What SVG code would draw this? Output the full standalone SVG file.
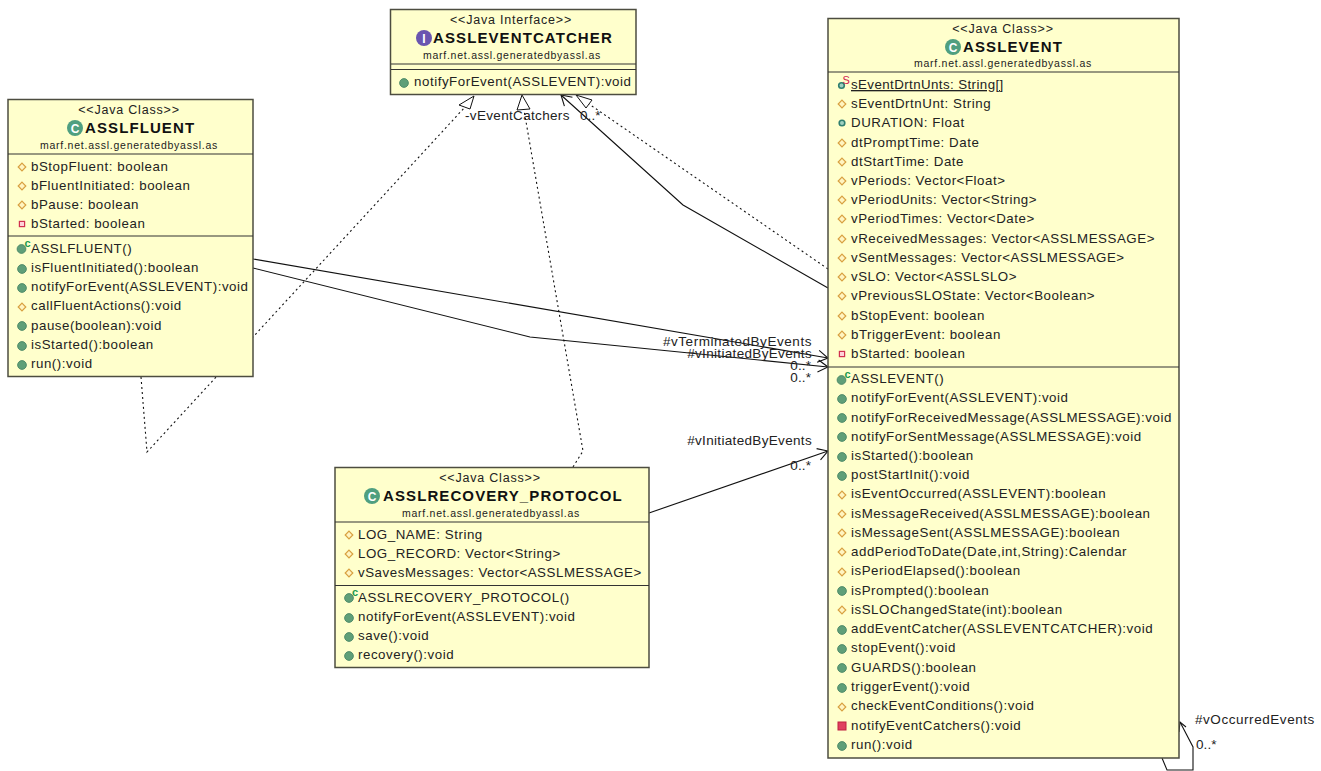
<svg xmlns="http://www.w3.org/2000/svg" width="1321" height="771" viewBox="0 0 1321 771">
<style>
text{font-family:"Liberation Sans",Arial,sans-serif;fill:#222}
.box{fill:#ffffcc;stroke:#4d4d40;stroke-width:1.5}
.div{stroke:#333;stroke-width:1.2;fill:none}
.r{font-size:13.3px;letter-spacing:.55px}
.st{font-size:12.5px;text-anchor:middle;letter-spacing:.8px}
.t{font-size:15px;font-weight:bold;letter-spacing:1.1px;fill:#111}
.p{font-size:10.5px;text-anchor:middle;letter-spacing:.75px}
.l{font-size:13.5px;letter-spacing:.55px}
.n{letter-spacing:.33px}
.m{letter-spacing:.1px}
.e{text-anchor:end}
.c{fill:none;stroke:#111;stroke-width:1.1}
.d{fill:none;stroke:#111;stroke-width:1.1;stroke-dasharray:2 3}
.ic{font-size:12px;font-weight:bold;fill:#fff;text-anchor:middle}
.sup{font-size:11px;font-weight:bold}
</style>
<defs>
<g id="pub"><circle r="4.4" fill="#5f9f78" stroke="#3f7f60" stroke-width=".8"/></g>
<g id="pubf"><circle r="2.8" fill="#9fd0c0" stroke="#2f7f70" stroke-width="1.6"/></g>
<g id="pro"><path d="M0-3.8 3.8 0 0 3.8-3.8 0Z" fill="#fff4c0" stroke="#d8a040" stroke-width="1.2"/></g>
<g id="pri"><rect x="-2.6" y="-2.6" width="5.2" height="5.2" fill="#ffd0d8" stroke="#d03050" stroke-width="1.2"/></g>
<g id="prim"><rect x="-4" y="-4" width="8" height="8" fill="#e04060" stroke="#c02040"/></g>
<g id="ctor"><circle r="4.4" cy="1" fill="#5f9f78" stroke="#3f7f60" stroke-width=".8"/><text x="6" y="-1.5" class="sup" style="fill:#1a9a50;text-anchor:middle">c</text></g>
<g id="cls"><circle r="8" fill="#4f9f80"/><text y="4.5" class="ic">C</text></g>
<g id="ifc"><circle r="8" fill="#6a55b0"/><text y="4.5" class="ic">I</text></g>
<marker id="open" markerWidth="16" markerHeight="14" refX="14" refY="7" orient="auto" markerUnits="userSpaceOnUse"><path d="M4 1 14 7 4 13" fill="none" stroke="#111" stroke-width="1.1"/></marker>
</defs>

<g id="connectors">
<path class="d" d="M141 377 147 452 465 107"/>
<path d="M474 96 459 105 470 109Z" fill="#fff" stroke="#111"/>
<path class="d" d="M573 467 583 451 524 110"/>
<path d="M522 95 517 110 530 109Z" fill="#fff" stroke="#111"/>
<path class="d" d="M828 269 589 104"/>
<path d="M576 95 592 100 586 108Z" fill="#fff" stroke="#111"/>
<path class="c" d="M828 288 683 205 561 95" marker-end="url(#open)"/>
<path class="c" d="M253 259 828 358" marker-end="url(#open)"/>
<path class="c" d="M253 268 530 337 828 367" marker-end="url(#open)"/>
<path class="c" d="M649 513 828 451" marker-end="url(#open)"/>
<path class="c" d="M1162 758 1167 770 1193 770 1193 747 1180 722"/>
<path class="c" d="M1179 732 1180 722 1186 727"/>
<text class="l n" x="465" y="120">-vEventCatchers</text>
<text class="l m" x="580" y="120">0..*</text>
<text class="l e" x="812" y="346">#vTerminatedByEvents</text>
<text class="l n e" x="812" y="358">#vInitiatedByEvents</text>
<text class="l m e" x="811" y="370">0..*</text>
<text class="l m e" x="811" y="382">0..*</text>
<text class="l n e" x="812" y="445">#vInitiatedByEvents</text>
<text class="l m e" x="811" y="470">0..*</text>
<text class="l" x="1195" y="724">#vOccurredEvents</text>
<text class="l m" x="1196" y="749">0..*</text>
</g>

<g id="ASSLEVENTCATCHER">
<rect class="box" x="390.5" y="9.5" width="245.5" height="85"/>
<text class="st" x="511" y="24">&lt;&lt;Java Interface&gt;&gt;</text>
<use href="#ifc" x="424" y="38"/>
<text class="t" x="433" y="43">ASSLEVENTCATCHER</text>
<text class="p" x="512" y="59">marf.net.assl.generatedbyassl.as</text>
<path class="div" d="M391 64H636M391 69.5H636"/>
<use href="#pub" x="404" y="83"/><text class="r" x="414" y="86">notifyForEvent(ASSLEVENT):void</text>
</g>

<g id="ASSLFLUENT">
<rect class="box" x="8" y="99.5" width="245" height="277"/>
<text class="st" x="129" y="114">&lt;&lt;Java Class&gt;&gt;</text>
<use href="#cls" x="75" y="128"/>
<text class="t" x="85" y="133">ASSLFLUENT</text>
<text class="p" x="129" y="149">marf.net.assl.generatedbyassl.as</text>
<path class="div" d="M8 154H253M8 236H253"/>
<use href="#pro" x="22" y="167"/><text class="r" x="31" y="171">bStopFluent: boolean</text>
<use href="#pro" x="22" y="186"/><text class="r" x="31" y="190">bFluentInitiated: boolean</text>
<use href="#pro" x="22" y="205"/><text class="r" x="31" y="209">bPause: boolean</text>
<use href="#pri" x="22" y="224"/><text class="r" x="31" y="228">bStarted: boolean</text>
<use href="#ctor" x="21.5" y="248"/><text class="r" x="31" y="253">ASSLFLUENT()</text>
<use href="#pub" x="22" y="269"/><text class="r" x="31" y="272">isFluentInitiated():boolean</text>
<use href="#pub" x="22" y="288"/><text class="r" x="31" y="291">notifyForEvent(ASSLEVENT):void</text>
<use href="#pro" x="22" y="307"/><text class="r" x="31" y="310">callFluentActions():void</text>
<use href="#pub" x="22" y="326"/><text class="r" x="31" y="330">pause(boolean):void</text>
<use href="#pub" x="22" y="346"/><text class="r" x="31" y="349">isStarted():boolean</text>
<use href="#pub" x="22" y="365"/><text class="r" x="31" y="368">run():void</text>
</g>

<g id="ASSLRECOVERY_PROTOCOL">
<rect class="box" x="335" y="467.5" width="314" height="200"/>
<text class="st" x="490" y="482">&lt;&lt;Java Class&gt;&gt;</text>
<use href="#cls" x="372" y="496"/>
<text class="t" x="383" y="501">ASSLRECOVERY_PROTOCOL</text>
<text class="p" x="491" y="517">marf.net.assl.generatedbyassl.as</text>
<path class="div" d="M335 522H649M335 585.5H649"/>
<use href="#pro" x="349" y="535"/><text class="r" x="358" y="539">LOG_NAME: String</text>
<use href="#pro" x="349" y="554"/><text class="r" x="358" y="558">LOG_RECORD: Vector&lt;String&gt;</text>
<use href="#pro" x="349" y="573"/><text class="r" x="358" y="577">vSavesMessages: Vector&lt;ASSLMESSAGE&gt;</text>
<use href="#ctor" x="349" y="597"/><text class="r" x="358" y="602">ASSLRECOVERY_PROTOCOL()</text>
<use href="#pub" x="349" y="618"/><text class="r" x="358" y="621">notifyForEvent(ASSLEVENT):void</text>
<use href="#pub" x="349" y="637"/><text class="r" x="358" y="640">save():void</text>
<use href="#pub" x="349" y="656"/><text class="r" x="358" y="659">recovery():void</text>
</g>

<g id="ASSLEVENT">
<rect class="box" x="828" y="18.5" width="351" height="739.5"/>
<text class="st" x="1003" y="33">&lt;&lt;Java Class&gt;&gt;</text>
<use href="#cls" x="953" y="47"/>
<text class="t" x="963" y="52">ASSLEVENT</text>
<text class="p" x="1003" y="67">marf.net.assl.generatedbyassl.as</text>
<path class="div" d="M828 72H1179M828 367H1179"/>
<use href="#pubf" x="841.5" y="85.5"/><text class="sup" x="842.5" y="84" style="fill:#d02050;font-weight:normal">S</text><text class="r" x="851" y="89" text-decoration="underline" style="letter-spacing:.42px">sEventDrtnUnts: String[]</text>
<use href="#pro" x="842" y="104"/><text class="r" x="851" y="108">sEventDrtnUnt: String</text>
<use href="#pubf" x="842" y="123"/><text class="r" x="851" y="127">DURATION: Float</text>
<use href="#pro" x="842" y="143"/><text class="r" x="851" y="147">dtPromptTime: Date</text>
<use href="#pro" x="842" y="162"/><text class="r" x="851" y="166">dtStartTime: Date</text>
<use href="#pro" x="842" y="181"/><text class="r" x="851" y="185">vPeriods: Vector&lt;Float&gt;</text>
<use href="#pro" x="842" y="200"/><text class="r" x="851" y="204">vPeriodUnits: Vector&lt;String&gt;</text>
<use href="#pro" x="842" y="219"/><text class="r" x="851" y="223">vPeriodTimes: Vector&lt;Date&gt;</text>
<use href="#pro" x="842" y="239"/><text class="r" x="851" y="243">vReceivedMessages: Vector&lt;ASSLMESSAGE&gt;</text>
<use href="#pro" x="842" y="258"/><text class="r" x="851" y="262">vSentMessages: Vector&lt;ASSLMESSAGE&gt;</text>
<use href="#pro" x="842" y="277"/><text class="r" x="851" y="281">vSLO: Vector&lt;ASSLSLO&gt;</text>
<use href="#pro" x="842" y="296"/><text class="r" x="851" y="300">vPreviousSLOState: Vector&lt;Boolean&gt;</text>
<use href="#pro" x="842" y="316"/><text class="r" x="851" y="320">bStopEvent: boolean</text>
<use href="#pro" x="842" y="335"/><text class="r" x="851" y="339">bTriggerEvent: boolean</text>
<use href="#pri" x="842" y="354"/><text class="r" x="851" y="358">bStarted: boolean</text>
<use href="#ctor" x="841.5" y="379"/><text class="r" x="851" y="383">ASSLEVENT()</text>
<use href="#pub" x="842" y="399"/><text class="r" x="851" y="402">notifyForEvent(ASSLEVENT):void</text>
<use href="#pub" x="842" y="418"/><text class="r" x="851" y="422">notifyForReceivedMessage(ASSLMESSAGE):void</text>
<use href="#pub" x="842" y="437"/><text class="r" x="851" y="441">notifyForSentMessage(ASSLMESSAGE):void</text>
<use href="#pub" x="842" y="457"/><text class="r" x="851" y="460">isStarted():boolean</text>
<use href="#pub" x="842" y="476"/><text class="r" x="851" y="479">postStartInit():void</text>
<use href="#pro" x="842" y="495"/><text class="r" x="851" y="498">isEventOccurred(ASSLEVENT):boolean</text>
<use href="#pro" x="842" y="514"/><text class="r" x="851" y="518">isMessageReceived(ASSLMESSAGE):boolean</text>
<use href="#pro" x="842" y="533"/><text class="r" x="851" y="537">isMessageSent(ASSLMESSAGE):boolean</text>
<use href="#pro" x="842" y="552"/><text class="r" x="851" y="556">addPeriodToDate(Date,int,String):Calendar</text>
<use href="#pro" x="842" y="572"/><text class="r" x="851" y="575">isPeriodElapsed():boolean</text>
<use href="#pub" x="842" y="591"/><text class="r" x="851" y="595">isPrompted():boolean</text>
<use href="#pro" x="842" y="610"/><text class="r" x="851" y="614">isSLOChangedState(int):boolean</text>
<use href="#pub" x="842" y="630"/><text class="r" x="851" y="633">addEventCatcher(ASSLEVENTCATCHER):void</text>
<use href="#pub" x="842" y="649"/><text class="r" x="851" y="652">stopEvent():void</text>
<use href="#pub" x="842" y="668"/><text class="r" x="851" y="672">GUARDS():boolean</text>
<use href="#pub" x="842" y="688"/><text class="r" x="851" y="691">triggerEvent():void</text>
<use href="#pro" x="842" y="707"/><text class="r" x="851" y="710">checkEventConditions():void</text>
<use href="#prim" x="842" y="726"/><text class="r" x="851" y="730">notifyEventCatchers():void</text>
<use href="#pub" x="842" y="746"/><text class="r" x="851" y="749">run():void</text>
</g>
</svg>
